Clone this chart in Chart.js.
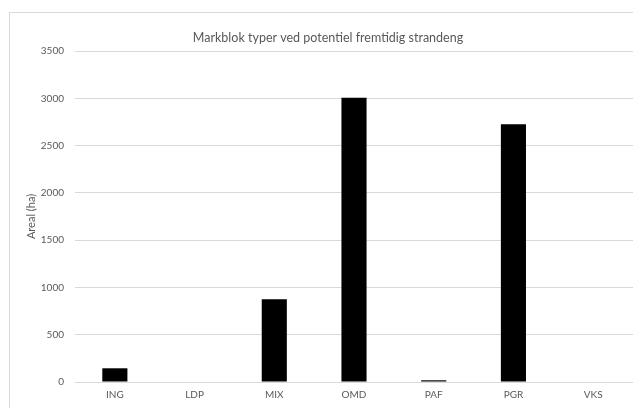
<!DOCTYPE html>
<html>
<head>
<meta charset="utf-8">
<script src="https://cdn.jsdelivr.net/npm/chart.js@4/dist/chart.umd.min.js"></script>
<style>
  html, body { margin: 0; padding: 0; background: #ffffff; }
  #wrap { width: 633px; height: 408px; }
</style>
</head>
<body>
<div id="wrap"><canvas id="c" width="633" height="408"></canvas></div>
<script>
// Markblok types and their area (ha)
const categories = ['ING', 'LDP', 'MIX', 'OMD', 'PAF', 'PGR', 'VKS'];
const arealHa = [145, 0, 875, 3005, 18, 2725, 0];
const yTicks = [0, 500, 1000, 1500, 2000, 2500, 3000, 3500];
const chartTitle = 'Markblok typer ved potentiel fremtidig strandeng';

const textGrey = '#595959';
const lineGrey = '#d9d9d9';
const fontFamily = 'Lato, "Open Sans", sans-serif';

// White background, light frame around the chart and the centred heading
const chartFrame = {
  id: 'chartFrame',
  beforeDraw(chart) {
    const ctx = chart.ctx;
    ctx.save();
    ctx.fillStyle = '#ffffff';
    ctx.fillRect(0, 0, chart.width, chart.height);
    ctx.strokeStyle = lineGrey;
    ctx.lineWidth = 1;
    ctx.strokeRect(9.5, 12.5, 700, 500);
    ctx.fillStyle = textGrey;
    ctx.font = '12.5px ' + fontFamily;
    ctx.textAlign = 'center';
    ctx.textBaseline = 'middle';
    ctx.fillText(chartTitle, 328, 37.5);
    ctx.restore();
  }
};

new Chart(document.getElementById('c'), {
  type: 'bar',
  data: {
    labels: categories,
    datasets: [{
      data: arealHa,
      backgroundColor: '#000000',
      borderWidth: 0,
      categoryPercentage: 1,
      barPercentage: 0.315
    }]
  },
  options: {
    responsive: false,
    animation: false,
    devicePixelRatio: 1,
    layout: { padding: { left: 10, right: 0, top: 51, bottom: 0 } },
    plugins: {
      legend: { display: false },
      tooltip: { enabled: false },
      title: { display: false }
    },
    scales: {
      x: {
        grid: { display: false, drawTicks: false },
        border: { display: true, color: lineGrey, width: 1 },
        ticks: {
          color: textGrey,
          font: { family: fontFamily, size: 10 },
          padding: 7,
          maxRotation: 0
        },
        afterFit(scale) { scale.height = 26; }
      },
      y: {
        min: 0,
        max: 3500,
        afterBuildTicks(scale) { scale.ticks = yTicks.map(v => ({ value: v })); },
        grid: { color: lineGrey, lineWidth: 1, drawTicks: false },
        border: { display: false },
        ticks: {
          color: textGrey,
          font: { family: fontFamily, size: 10 },
          padding: 11,
          callback: v => String(v)
        },
        title: {
          display: true,
          text: 'Areal (ha)',
          color: textGrey,
          font: { family: fontFamily, size: 11 },
          padding: { top: 15, bottom: 0 }
        },
        afterFit(scale) { scale.width = 65; }
      }
    }
  },
  plugins: [chartFrame]
});
</script>
</body>
</html>
